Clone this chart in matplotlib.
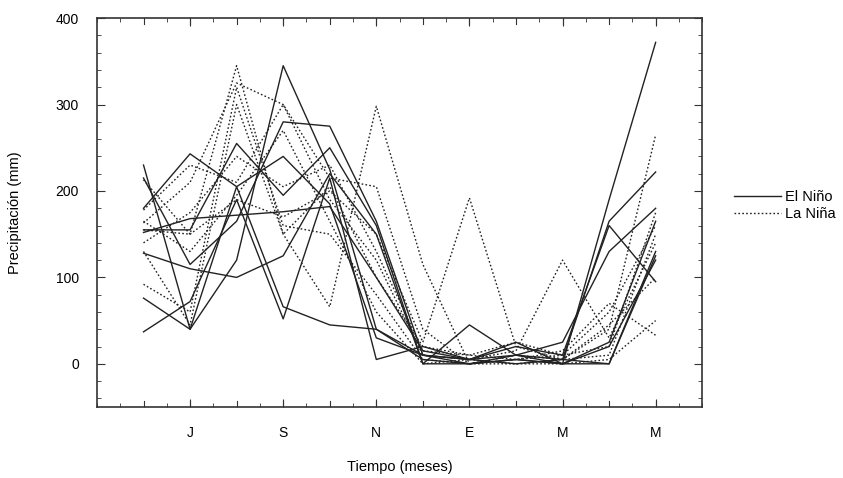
import matplotlib.pyplot as plt
from matplotlib.lines import Line2D
from matplotlib.ticker import MultipleLocator

plt.rcParams["font.family"] = ["Liberation Sans", "DejaVu Sans"]

# Meses de junio (1) a mayo (12)
meses = list(range(1, 13))
etiquetas_x = ["J", "S", "N", "E", "M", "M"]
posiciones_x = [2, 4, 6, 8, 10, 12]

# Años El Niño (línea continua)
el_nino = [
    [230, 40, 120, 345, 225, 40, 5, 0, 5, 0, 190, 372],
    [215, 115, 165, 280, 275, 165, 10, 5, 0, 5, 165, 222],
    [180, 243, 205, 240, 185, 30, 10, 5, 20, 10, 160, 95],
    [152, 168, 172, 176, 182, 100, 15, 5, 10, 25, 130, 180],
    [128, 110, 100, 125, 220, 150, 0, 45, 10, 0, 25, 165],
    [76, 40, 205, 66, 45, 40, 10, 0, 10, 5, 0, 130],
    [37, 72, 190, 52, 215, 5, 20, 5, 25, 0, 0, 125],
    [155, 155, 255, 195, 250, 160, 0, 0, 5, 0, 20, 120],
]

# Años La Niña (línea punteada)
la_nina = [
    [213, 150, 345, 150, 66, 298, 115, 0, 10, 5, 40, 265],
    [163, 210, 325, 300, 215, 205, 40, 0, 5, 10, 60, 160],
    [155, 150, 190, 170, 200, 150, 25, 192, 20, 5, 10, 150],
    [178, 230, 210, 300, 190, 120, 10, 5, 15, 120, 30, 140],
    [92, 60, 320, 160, 150, 80, 5, 0, 0, 0, 5, 50],
    [130, 45, 300, 150, 205, 100, 20, 10, 5, 15, 70, 33],
    [165, 130, 195, 270, 165, 60, 0, 5, 0, 5, 45, 100],
    [140, 175, 240, 205, 230, 130, 15, 10, 25, 10, 20, 175],
]

fig = plt.figure(figsize=(8.43, 4.78), dpi=100)
ax = fig.add_axes([0.115, 0.1485, 0.718, 0.8135])

for serie in el_nino:
    ax.plot(meses, serie, color="#222222", lw=1.0, ls="-")
for serie in la_nina:
    ax.plot(meses, serie, color="#222222", lw=1.0, ls=(0, (1.2, 1.6)))

ax.set_xlim(0, 13)
ax.set_ylim(-50, 400)

ax.set_xticks(posiciones_x)
ax.set_xticklabels(etiquetas_x)
ax.xaxis.set_minor_locator(MultipleLocator(0.5))
ax.set_yticks([0, 100, 200, 300, 400])
ax.yaxis.set_minor_locator(MultipleLocator(20))

ax.tick_params(which="both", direction="in", top=True, right=True,
               labelsize=10, color="#333333")
ax.tick_params(which="major", length=6)
ax.tick_params(which="minor", length=3)
ax.tick_params(axis="x", pad=14)
ax.tick_params(axis="y", pad=13)

# las marcas de cada mes son largas, no solo las rotuladas
for m in meses:
    ax.axvline(m, ymin=0, ymax=6 / 389, color="#333333", lw=0.8)
    ax.axvline(m, ymin=1 - 6 / 389, ymax=1, color="#333333", lw=0.8)

for lado in ax.spines.values():
    lado.set_linewidth(1.2)
    lado.set_color("#333333")

ax.set_xlabel("Tiempo (meses)", fontsize=10.5, labelpad=14)
ax.set_ylabel("Precipitación (mm)", fontsize=10.5, labelpad=24)

manejadores = [
    Line2D([], [], color="#222222", lw=1.0, ls="-"),
    Line2D([], [], color="#222222", lw=1.0, ls=(0, (1.2, 1.6))),
]
fig.legend(manejadores, ["El Niño", "La Niña"], loc="center left",
           bbox_to_anchor=(0.855, 0.57), frameon=False, fontsize=10.5,
           handlelength=3.2, handletextpad=0.3, labelspacing=0.25)

plt.savefig("out.png", dpi=100)
